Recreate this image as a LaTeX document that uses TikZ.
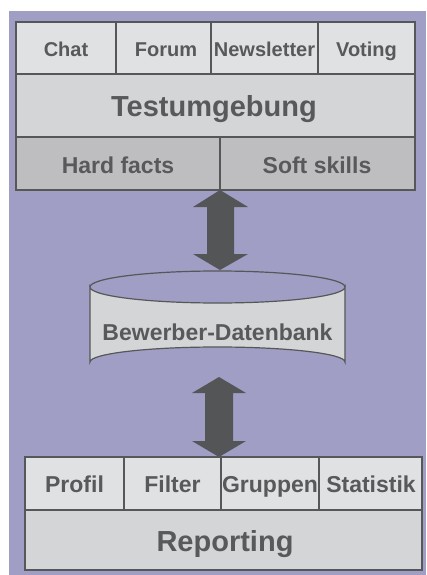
\documentclass[tikz,border=0pt]{standalone}
\usepackage{fontspec}
\setmainfont{Liberation Sans}
\usetikzlibrary{shapes.geometric}
\definecolor{bgpurple}{RGB}{160,158,197}
\definecolor{cellA}{RGB}{224,225,227}
\definecolor{cellB}{RGB}{212,213,215}
\definecolor{cellC}{RGB}{190,190,193}
\definecolor{edgegray}{RGB}{85,87,89}
\definecolor{txtgray}{RGB}{88,89,91}
\definecolor{arrowgray}{RGB}{84,85,87}
\tikzset{
  cell/.style={draw=edgegray, line width=1.2pt},
  lbl/.style={text=txtgray, font=\bfseries, inner sep=0pt, anchor=base},
  bigarrow/.style={fill=arrowgray, draw=none},
}
\begin{document}
\begin{tikzpicture}[x=1pt,y=-1pt]
\useasboundingbox (0,0) rectangle (426,575);
\fill[bgpurple] (9,11) rectangle (426,575);
% top block
\coordinate (t1) at (16,22); \coordinate (t2) at (116,74);
\filldraw[cell, fill=cellA] (16,22) rectangle (116,74);
\filldraw[cell, fill=cellA] (116,22) rectangle (211,74);
\filldraw[cell, fill=cellA] (211,22) rectangle (318,74);
\filldraw[cell, fill=cellA] (318,22) rectangle (415,74);
\filldraw[cell, fill=cellB] (16,74) rectangle (415,137);
\filldraw[cell, fill=cellC] (16,137) rectangle (220,190);
\filldraw[cell, fill=cellC] (220,137) rectangle (415,190);
\node[lbl, font=\bfseries\fontsize{20}{20}\selectfont] (chat) at (66,57) {Chat};
\node[lbl, font=\bfseries\fontsize{20}{20}\selectfont] (forum) at (166,57) {Forum};
\node[lbl, font=\bfseries\fontsize{20}{20}\selectfont] (news) at (264.5,57) {Newsletter};
\node[lbl, font=\bfseries\fontsize{20}{20}\selectfont] (voting) at (366.5,57) {Voting};
\node[lbl, font=\bfseries\fontsize{29}{29}\selectfont] (test) at (214,117) {Testumgebung};
\node[lbl, font=\bfseries\fontsize{23}{23}\selectfont] (hard) at (118,173) {Hard facts};
\node[lbl, font=\bfseries\fontsize{23}{23}\selectfont] (soft) at (317,173) {Soft skills};
% arrow 1
\coordinate (a1top) at (220,190);
\coordinate (a1bot) at (220,270);
\fill[bigarrow] (a1top) -- (248,207) -- (234,207) -- (234,254) -- (248,254) -- (a1bot)
  -- (193,254) -- (207,254) -- (207,207) -- (193,207) -- cycle;
% cylinder
\filldraw[cell, fill=cellB] (90,287) -- (90,362) arc[start angle=180, end angle=360, x radius=127.5, y radius=15] -- (345,287) arc[start angle=0, end angle=180, x radius=127.5, y radius=16] -- cycle;
\draw[cell] (90,287) arc[start angle=180, end angle=360, x radius=127.5, y radius=16];
\node[lbl, font=\bfseries\fontsize{23}{23}\selectfont] (db) at (217.5,340) {Bewerber-Datenbank};
% arrow 2
\coordinate (a2top) at (219,377);
\coordinate (a2bot) at (219,457);
\fill[bigarrow] (a2top) -- (246,393) -- (233,393) -- (233,441) -- (246,441) -- (a2bot)
  -- (192,441) -- (205,441) -- (205,393) -- (192,393) -- cycle;
% bottom block
\filldraw[cell, fill=cellA] (25,457) rectangle (124,510);
\filldraw[cell, fill=cellA] (124,457) rectangle (221,510);
\filldraw[cell, fill=cellA] (221,457) rectangle (319,510);
\filldraw[cell, fill=cellA] (319,457) rectangle (422,510);
\filldraw[cell, fill=cellB] (25,510) rectangle (422,570);
\node[lbl, font=\bfseries\fontsize{23}{23}\selectfont] (profil) at (74.5,492) {Profil};
\node[lbl, font=\bfseries\fontsize{23}{23}\selectfont] (filter) at (172.5,492) {Filter};
\node[lbl, font=\bfseries\fontsize{23}{23}\selectfont] (gruppen) at (270,492) {Gruppen};
\node[lbl, font=\bfseries\fontsize{23}{23}\selectfont] (stat) at (371,492) {Statistik};
\node[lbl, font=\bfseries\fontsize{29}{29}\selectfont] (rep) at (225,551) {Reporting};
\end{tikzpicture}
\end{document}
